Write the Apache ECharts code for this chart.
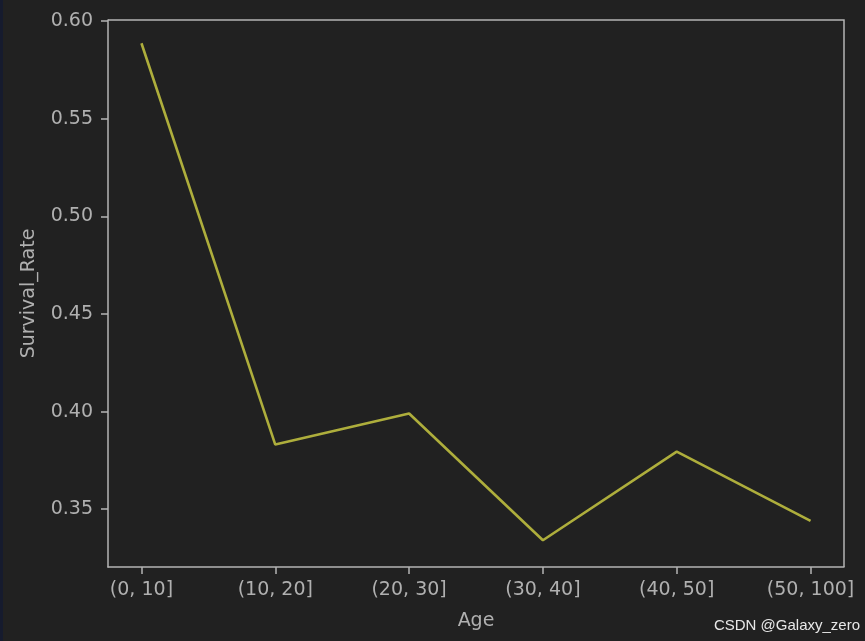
<!DOCTYPE html>
<html><head><meta charset="utf-8">
<script src="https://cdn.jsdelivr.net/npm/echarts@6/dist/echarts.min.js"></script>
<style>html,body{margin:0;padding:0;background:#212121;}#c{width:865px;height:641px;}</style>
</head><body><div id="c"></div>
<script>
const categories = ['(0, 10]', '(10, 20]', '(20, 30]', '(30, 40]', '(40, 50]', '(50, 100]'];
const survivalRate = [0.5887, 0.3831, 0.3990, 0.3341, 0.3795, 0.3440];
const yTicks = [0.35, 0.40, 0.45, 0.50, 0.55, 0.60];
const xTicks = [0, 1, 2, 3, 4, 5];

const chart = echarts.init(document.getElementById('c'), null, {renderer: 'canvas'});
const axisColor = '#b4b4b4';
const labelColor = '#b0b0b0';
const font = 'DejaVu Sans';
chart.setOption({
  backgroundColor: '#212121',
  animation: false,
  grid: {left: 108, right: 21, top: 20, bottom: 74, containLabel: false},
  xAxis: {
    type: 'value', min: -0.25, max: 5.25,
    name: 'Age', nameLocation: 'middle', nameGap: 45,
    nameTextStyle: {color: labelColor, fontFamily: font, fontSize: 19},
    axisLine: {show: true, onZero: false, lineStyle: {color: axisColor, width: 1.5}},
    axisTick: {show: true, length: 7, lineStyle: {color: axisColor, width: 1.5}, customValues: xTicks},
    axisLabel: {color: labelColor, fontFamily: font, fontSize: 19, margin: 14, customValues: xTicks,
      formatter: v => categories[Math.round(v)] || ''},
    splitLine: {show: false}
  },
  yAxis: {
    type: 'value', min: 0.3204, max: 0.6006,
    name: 'Survival_Rate', nameLocation: 'middle', nameGap: 69,
    nameTextStyle: {color: labelColor, fontFamily: font, fontSize: 19},
    axisLine: {show: true, onZero: false, lineStyle: {color: axisColor, width: 1.5}},
    axisTick: {show: true, length: 7, lineStyle: {color: axisColor, width: 1.5}, customValues: yTicks},
    axisLabel: {color: labelColor, fontFamily: font, fontSize: 19, margin: 15, customValues: yTicks,
      formatter: v => v.toFixed(2)},
    splitLine: {show: false}
  },
  series: [{
    type: 'line',
    data: survivalRate.map((v, i) => [i, v]),
    showSymbol: false,
    lineStyle: {color: '#aeae3c', width: 2.6},
    itemStyle: {color: '#aeae3c'}
  }]
});
(function(){
  const g = chart.getModel().getComponent('grid').coordinateSystem.getRect();
  chart.setOption({graphic: [
    {type: 'rect', left: 0, top: 0, shape: {width: 3, height: 641}, style: {fill: '#161b2e'}, silent: true},
    {type: 'text', right: 5, bottom: 8, style: {text: 'CSDN @Galaxy_zero', fill: '#e8e8e8', font: '15px "Liberation Sans", Arial, sans-serif'}},
    {type: 'polyline', shape: {points: [[g.x, g.y], [g.x + g.width, g.y], [g.x + g.width, g.y + g.height]]},
     style: {stroke: axisColor, lineWidth: 1.5, fill: null}, silent: true}
  ]});
})();
</script></body></html>
